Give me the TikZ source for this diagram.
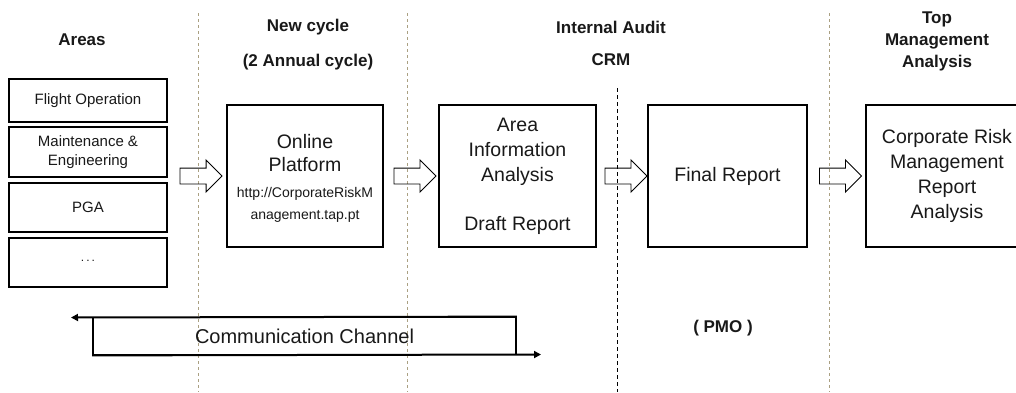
\documentclass[tikz,border=0pt]{standalone}
\usepackage{fontspec}
\setmainfont{Liberation Sans}
\usetikzlibrary{shapes.arrows,arrows.meta,calc}
\definecolor{tanline}{RGB}{170,160,130}
\definecolor{ink}{RGB}{25,25,25}
\begin{document}
\begin{tikzpicture}[x=1pt,y=-1pt,
  every node/.style={text=ink},
  areabox/.style={draw,line width=1.9pt,minimum width=158pt,inner sep=0pt,align=center,font=\fontsize{15}{17}\selectfont},
  mainbox/.style={draw,line width=1.7pt,minimum height=142pt,inner sep=0pt,align=center,font=\fontsize{19.5}{25}\selectfont},
  boxtext/.style={align=center,inner sep=0pt,font=\fontsize{19.5}{23}\selectfont},
  urltext/.style={align=center,inner sep=0pt,font=\fontsize{14}{22}\selectfont},
  title/.style={font=\bfseries\fontsize{17}{22}\selectfont,align=center,inner sep=0pt},
  blockarrow/.style={single arrow,draw,line width=0.9pt,minimum height=42pt,minimum width=31pt,single arrow head extend=8pt,inner xsep=0pt,inner ysep=7.5pt,single arrow tip angle=90},
  tandash/.style={draw=tanline,line width=1pt,dash pattern=on 3pt off 3pt},
  blackdash/.style={draw=black,line width=1pt,dash pattern=on 4pt off 3pt},
  commline/.style={line width=2pt,-{Triangle[length=7pt,width=7pt]}}]
\clip (0,0) rectangle (1016,392);
\fill[white] (0,0) rectangle (1016,392);

% separators
\draw[tandash] (198,13) -- (198,392);
\draw[tandash] (407,13) -- (407,392);
\draw[tandash] (829,13) -- (829,392);
\draw[blackdash] (617,88) -- (617,392);

% titles
\node[title] (tAreas) at (82,40) {Areas};
\node[title] (tNew) at (308,27) {New cycle};
\node[title] (tAnnual) at (308,62) {(2 Annual cycle)};
\node[title] (tAudit) at (611,27) {Internal Audit};
\node[title] (tCRM) at (611,60) {CRM};
\node[title] (tTop) at (937,41) {Top\\Management\\Analysis};

% areas column
\node[areabox,minimum height=43pt] (fo) at (88,100.5) {Flight Operation};
\node[areabox,minimum height=50pt,font=\fontsize{15}{19}\selectfont] (me) at (88,152) {Maintenance \&\\Engineering};
\node[areabox,minimum height=49pt] (pga) at (88,207.5) {PGA};
\node[areabox,minimum height=49pt] (dots) at (88,262.5) {\fontsize{12}{14}\selectfont \raisebox{3pt}{.\,.\,.}};

% main boxes
\node[mainbox,minimum width=156pt] (online) at (305,176) {};
\node[boxtext] (onlineT) at (305,153.5) {Online\\Platform};
\node[urltext] (onlineU) at (305,205) {http://CorporateRiskM\\anagement.tap.pt};
\node[mainbox,minimum width=157pt] (area) at (517.5,176) {Area\\Information\\Analysis\\[24pt]Draft Report};
\node[mainbox,minimum width=159pt] (final) at (727.5,176) {Final Report};
\node[mainbox,minimum width=162pt] (corp) at (947,176) {Corporate Risk\\Management\\Report\\Analysis};

% block arrows
\node[blockarrow] (a1) at ($(fo.east|-online.center)!0.5!(online.west)$) {};
\node[blockarrow] (a2) at ($(online.east)!0.5!(area.west)$) {};
\node[blockarrow] (a3) at ($(area.east)!0.5!(final.west)$) {};
\node[blockarrow] (a4) at ($(final.east)!0.5!(corp.west)$) {};

% communication channel
\node[draw,line width=1.8pt,minimum width=423pt,minimum height=37pt,inner sep=0pt,font=\fontsize{20}{24}\selectfont] (comm) at (304.5,336) {Communication Channel};
\coordinate (commL) at (71,317.5);
\coordinate (commR) at (541,354.5);
\draw[commline] (comm.north east) -- (commL);
\draw[commline] (comm.south west) -- (commR);

\node[title] (pmo) at (723,328) {( PMO )};
\end{tikzpicture}
\end{document}
